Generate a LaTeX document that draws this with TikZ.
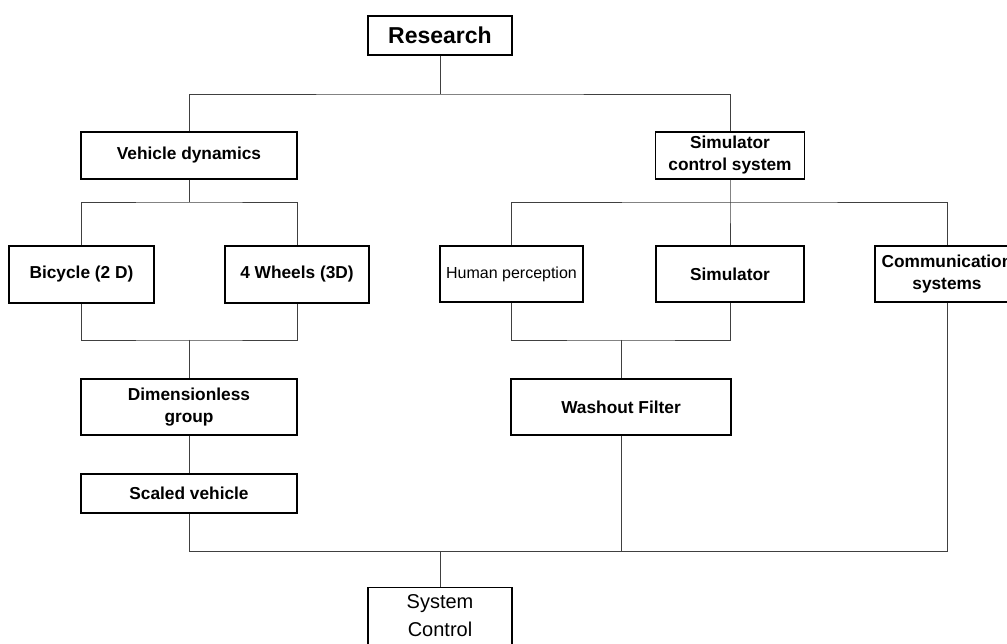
\documentclass[tikz,border=0pt]{standalone}
\usepackage{fontspec}
\setmainfont{Liberation Sans}
\usepackage{tikz}
\usetikzlibrary{positioning}

\begin{document}
\begin{tikzpicture}[
  x=1pt, y=-1pt,
  every node/.style={font=\bfseries\fontsize{17.3}{22}\selectfont},
  box/.style={draw=black, line width=1.3pt, fill=white, inner sep=0pt, minimum height=56pt, align=center},
  link/.style={draw=black!75, line width=0.9pt}
]
  \useasboundingbox (0,0) rectangle (1007,644);

  \node[box, minimum width=144pt, minimum height=39pt, font=\bfseries\fontsize{23}{26}\selectfont] (res) at (440,35.5) {Research};
  \node[box, minimum width=216pt, minimum height=47pt] (veh) at (189,155.5) {Vehicle dynamics};
  \node[box, minimum width=149pt, minimum height=47pt] (sct) at (730,155.5) {Simulator\\control system};

  \node[box, minimum width=145pt, minimum height=57pt] (bic) at (81.5,274.5) {Bicycle (2 D)};
  \node[box, minimum width=144pt, minimum height=57pt] (whl) at (297,274.5) {4 Wheels (3D)};
  \node[box, minimum width=143pt, minimum height=56pt, font=\fontsize{16}{22}\selectfont] (hum) at (511.5,274) {Human perception};
  \node[box, minimum width=148pt, minimum height=56pt] (smr) at (730,274) {Simulator};
  \node[box, minimum width=144pt, minimum height=56pt] (com) at (947,274) {Communication\\systems};

  \node[box, minimum width=216pt] (dim) at (189,407) {Dimensionless\\group};
  \node[box, minimum width=220pt] (wsh) at (621,407) {Washout Filter};
  \node[box, minimum width=216pt, minimum height=39pt] (scl) at (189,493.5) {Scaled vehicle};
  \node[box, minimum width=144pt, minimum height=57pt, font=\fontsize{20}{28}\selectfont] (ctl) at (440,616) {System\\Control};

  \coordinate (j0) at (440,94);
  \coordinate (j4) at (189,202);
  \coordinate (j5) at (730,202);
  \coordinate (j1) at (189,340);
  \coordinate (j2) at (621,340);
  \coordinate (j3) at (440,551);

  \draw[link] (res) -- (j0);
  \draw[link] (veh.north) |- (j0) -| (sct.north);
  \draw[link] (veh) -- (j4);
  \draw[link] (bic.north) |- (j4) -| (whl.north);
  \draw[link] (sct) -- (j5) -- (smr);
  \draw[link] (hum.north) |- (j5) -| (com.north);
  \draw[link] (bic.south) |- (j1) -| (whl.south);
  \draw[link] (j1) -- (dim);
  \draw[link] (dim) -- (scl);
  \draw[link] (hum.south) |- (j2) -| (smr.south);
  \draw[link] (j2) -- (wsh);
  \draw[link] (scl.south) |- (j3) -- (ctl);
  \draw[link] (com.south) |- (j3);
  \draw[link] (wsh.south) -- (wsh.south |- j3);
\end{tikzpicture}
\end{document}
